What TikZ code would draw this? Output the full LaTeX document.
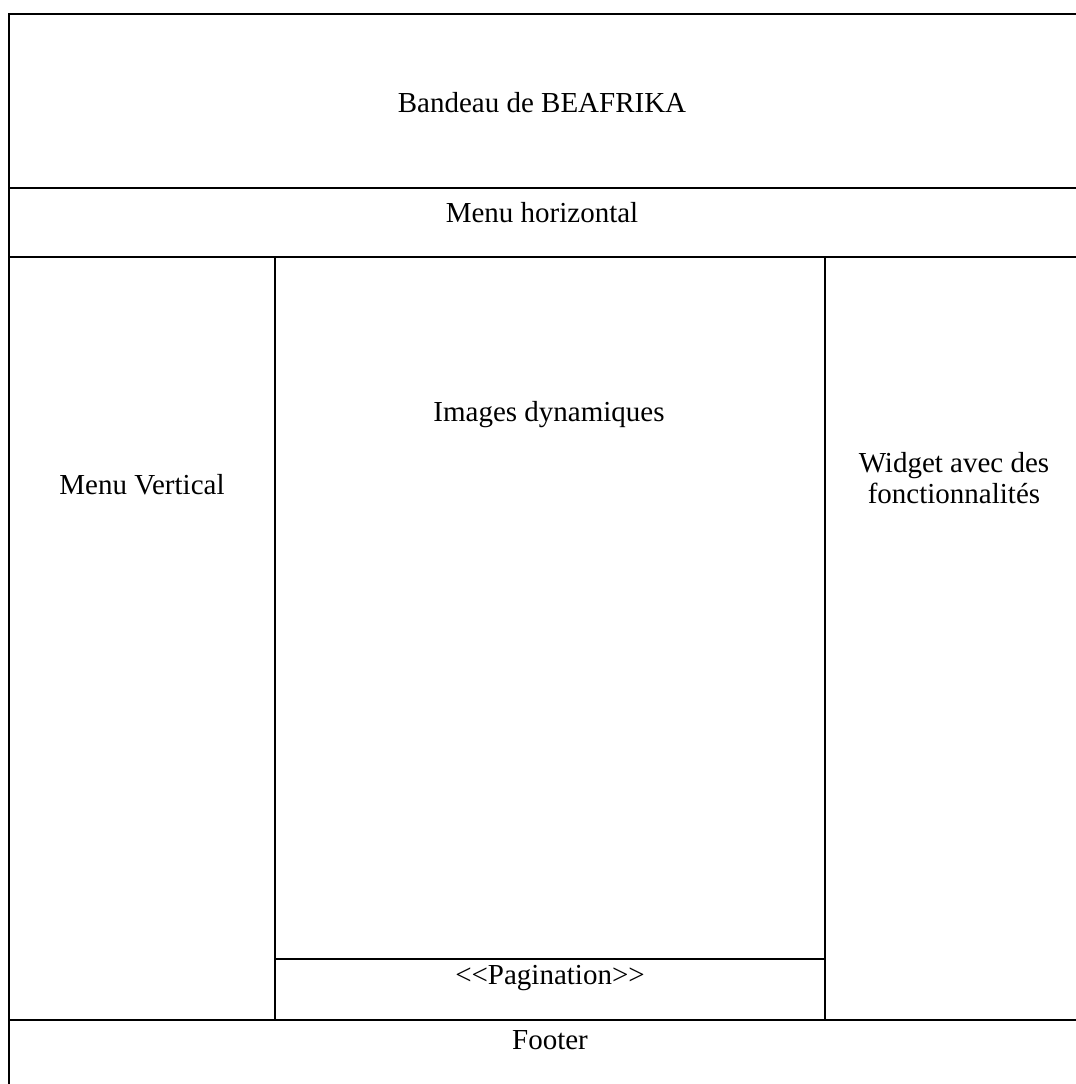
\documentclass[tikz,border=0pt]{standalone}
\usepackage{fontspec}
\setmainfont{Liberation Serif}

\begin{document}
\begin{tikzpicture}[
            x=0.5pt, y=-0.5pt,
            line width=1pt,
            zone/.style={font=\fontsize{14.5}{15.5}\selectfont, align=center, inner sep=0pt}
        ]
            \useasboundingbox (0,0) rectangle (1076,1084);
            % frame and horizontal bands
            \draw (1076,14) -- (9,14) -- (9,1084);
            \draw (9,188) -- (1076,188);
            \draw (9,257) -- (1076,257);
            \draw (9,1020) -- (1076,1020);
            % columns
            \draw (275,257) -- (275,1020);
            \draw (825,257) -- (825,1020);
            \draw (275,959) -- (825,959);

            \node[zone] (bandeau) at (542,103) {Bandeau de BEAFRIKA};
            \node[zone] (menuh) at (542,213) {Menu horizontal};
            \node[zone] (menuv) at (142,485) {Menu Vertical};
            \node[zone] (images) at (549,415) {Images dynamiques};
            \node[zone] (widget) at (954,478) {Widget avec des\\fonctionnalités};
            \node[zone] (pagination) at (550,978) {{<}{<}Pagination{>}{>}};
            \node[zone] (footer) at (550,1040) {Footer};
        \end{tikzpicture}
\end{document}
